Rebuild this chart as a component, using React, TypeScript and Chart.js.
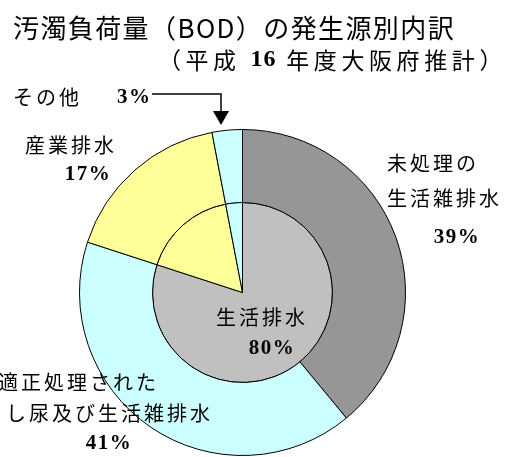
import React, { useEffect, useRef } from "react";
import { Chart, registerables } from "chart.js";

Chart.register(...registerables);

const outerLabels = ["未処理の生活雑排水", "適正処理されたし尿及び生活雑排水", "産業排水", "その他"];
const outerValues = [39, 41, 17, 3];
const outerColors = ["#969696", "#ccffff", "#ffff99", "#ccffff"];

const innerLabels = ["生活排水", "産業排水", "その他"];
const innerValues = [80, 17, 3];
const innerColors = ["#c0c0c0", "#ffff99", "#ccffff"];

const titleText = "汚濁負荷量（BOD）の発生源別内訳";
const subtitleRuns = ["（平成 ", "16", " 年度大阪府推計）"];

const JP = '"Noto Sans CJK JP", sans-serif';
const SERIF = '"Liberation Serif", serif';

type Run = { text: string; font: string; spacing: number };

function drawRuns(ctx: CanvasRenderingContext2D, runs: Run[], x: number, y: number, align: "left" | "center" | "right") {
  let total = 0;
  const widths: number[] = [];
  for (const r of runs) {
    ctx.font = r.font;
    (ctx as any).letterSpacing = r.spacing + "px";
    const w = ctx.measureText(r.text).width;
    widths.push(w);
    total += w;
  }
  let cx = align === "left" ? x : align === "center" ? x - total / 2 : x - total;
  ctx.textAlign = "left";
  ctx.textBaseline = "middle";
  runs.forEach((r, i) => {
    ctx.font = r.font;
    (ctx as any).letterSpacing = r.spacing + "px";
    ctx.fillText(r.text, cx, y);
    cx += widths[i];
  });
  (ctx as any).letterSpacing = "0px";
}

const jp = (t: string, size = 20, sp = 3): Run => ({ text: t, font: `${size}px ${JP}`, spacing: sp });
const num = (t: string, size = 21, sp = 1.5): Run => ({ text: t, font: `bold ${size}px ${SERIF}`, spacing: sp });

const labelPlugin = {
  id: "labels",
  afterDraw(chart: any) {
    const ctx: CanvasRenderingContext2D = chart.ctx;
    ctx.save();
    ctx.fillStyle = "#000";
    // title
    drawRuns(ctx, [jp(titleText, 26, 1.4)], 13, 28, "left");
    drawRuns(
      ctx,
      [jp(subtitleRuns[0], 23, 4.6), num(subtitleRuns[1], 24, 1), jp(subtitleRuns[2], 23, 4.6)],
      507,
      60,
      "right"
    );
    const pct = (v: number) => `${v}%`;
    // その他
    drawRuns(ctx, [jp("その他")], 13, 97, "left");
    drawRuns(ctx, [num(pct(outerValues[3]))], 117, 98, "left");
    // arrow
    ctx.strokeStyle = "#000";
    ctx.lineWidth = 1.5;
    ctx.beginPath();
    ctx.moveTo(152, 94);
    ctx.lineTo(221, 94);
    ctx.lineTo(221, 112);
    ctx.stroke();
    ctx.beginPath();
    ctx.moveTo(213, 111);
    ctx.lineTo(229, 111);
    ctx.lineTo(221, 125);
    ctx.closePath();
    ctx.fill();
    // 産業排水
    drawRuns(ctx, [jp("産業排水")], 25, 145, "left");
    drawRuns(ctx, [num(pct(outerValues[2]))], 88, 175, "center");
    // 未処理の生活雑排水
    drawRuns(ctx, [jp("未処理の")], 387, 163, "left");
    drawRuns(ctx, [jp("生活雑排水")], 387, 198, "left");
    drawRuns(ctx, [num(pct(outerValues[0]))], 457, 238, "center");
    // 生活排水
    drawRuns(ctx, [jp(innerLabels[0])], 262, 317, "center");
    drawRuns(ctx, [num(pct(innerValues[0]))], 272, 349, "center");
    // 適正処理された
    drawRuns(ctx, [jp("適正処理された")], -2, 382, "left");
    drawRuns(ctx, [jp("し尿及び生活雑排水")], 213, 413, "right");
    drawRuns(ctx, [num(pct(outerValues[1]))], 109, 444, "center");
    ctx.restore();
  },
};

export default function App() {
  const ref = useRef<HTMLCanvasElement | null>(null);
  useEffect(() => {
    if (!ref.current) return;
    const chart = new Chart(ref.current, {
      type: "doughnut",
      data: {
        labels: outerLabels,
        datasets: [
          {
            data: outerValues,
            backgroundColor: outerColors,
            borderColor: "#000",
            borderWidth: 1,
            weight: 73,
          } as any,
          {
            data: innerValues,
            backgroundColor: innerColors,
            borderColor: "#000",
            borderWidth: 1,
            weight: 90,
            labels: innerLabels,
          } as any,
        ],
      },
      options: {
        responsive: false,
        animation: false,
        cutout: 0,
        layout: { padding: { left: 79, right: 104, top: 129, bottom: 1 } },
        plugins: {
          legend: { display: false },
          tooltip: { enabled: false },
          title: { display: false },
        },
      },
      plugins: [labelPlugin],
    });
    return () => chart.destroy();
  }, []);
  return (
    <div style={{ position: "absolute", left: 0, top: 0, width: 510, height: 457, background: "#fff" }}>
      <canvas ref={ref} width={510} height={457} />
    </div>
  );
}
